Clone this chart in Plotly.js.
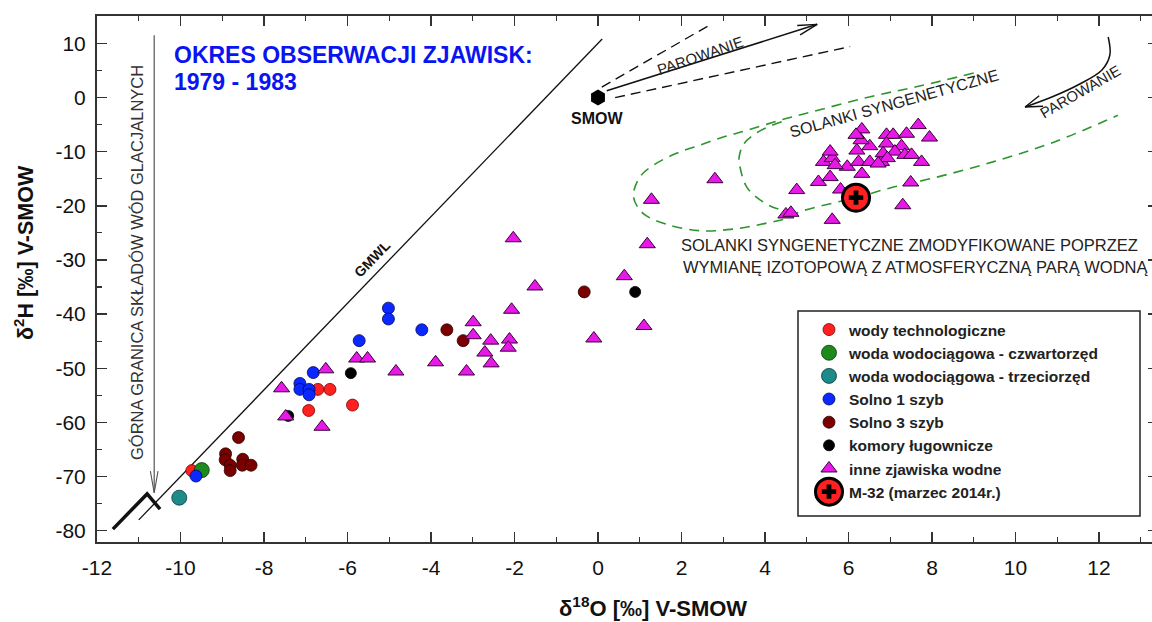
<!DOCTYPE html>
<html><head><meta charset="utf-8">
<script src="https://cdn.plot.ly/plotly-3.0.1.min.js"></script>
<style>html,body{margin:0;padding:0;overflow:hidden;background:#fff}#chart{width:1160px;height:622px}</style>
</head><body><div id="chart"></div>
<script>
// ---------------- DATA (δ18O, δ2H) ----------------
const techX  = [-6.71,-6.42,-6.93,-5.88,-9.73];
const techY  = [-53.9,-53.9,-57.8,-56.8,-68.9];
const quatX  = [-9.49];
const quatY  = [-68.8];
const tertX  = [-10.03];
const tertY  = [-73.9];
const solno1X = [-5.02,-5.02,-4.22,-5.72,-6.82,-7.14,-7.14,-6.92,-6.92,-9.63];
const solno1Y = [-38.9,-40.9,-42.9,-44.9,-50.8,-52.8,-53.9,-53.9,-54.9,-69.9];
const solno3X = [-0.33,-3.62,-3.23,-8.61,-8.92,-8.93,-8.51,-8.81,-8.52,-8.31,-8.81];
const solno3Y = [-35.9,-42.9,-44.9,-62.8,-65.8,-66.9,-66.8,-67.9,-67.9,-67.9,-68.9];
const komoryX = [0.89,-5.92,-7.42];
const komoryY = [-35.9,-50.9,-58.8];
const inneX = [-7.58,-7.48,-6.61,-6.52,-5.78,-5.52,-4.84,-3.89,-3.15,-2.99,-2.99,-2.57,-2.71,-2.56,-2.12,-2.15,-2.07,-2.03,-1.51,-0.10,0.63,1.10,1.18,1.28,2.80,4.76,4.50,4.62,5.61,
  5.28,5.56,5.81,6.32,5.97,5.40,5.61,5.68,5.56,6.24,6.51,6.79,6.20,6.51,6.30,6.32,6.18,6.91,7.07,7.39,7.67,7.94,6.91,7.27,6.83,7.11,7.35,7.51,7.75,6.93,6.71,7.49,7.30];
const inneY = [-53.7,-58.9,-60.8,-50.2,-48.2,-48.2,-50.6,-48.9,-50.6,-41.5,-43.9,-44.9,-47.1,-49.1,-44.7,-46.2,-39.2,-26.0,-34.9,-44.5,-33.0,-42.2,-27.1,-18.9,-15.1,-17.1,-21.6,-21.3,-22.6,
  -15.6,-14.7,-17.0,-14.1,-12.8,-11.9,-11.2,-12.5,-10.0,-11.9,-11.9,-11.9,-9.8,-9.0,-7.9,-5.9,-6.9,-6.9,-6.9,-6.7,-5.1,-7.4,-8.5,-9.0,-10.3,-10.0,-10.6,-10.6,-11.9,-11.2,-12.2,-15.7,-19.9];
const m32X = [6.18];
const m32Y = [-18.5];
const smowX = [0];
const smowY = [0];

const seriesNames = ['wody technologiczne','woda wodociągowa - czwartorzęd','woda wodociągowa - trzeciorzęd',
  'Solno 1 szyb','Solno 3 szyb','komory ługownicze','inne zjawiska wodne','M-32 (marzec 2014r.)'];

// reference lines / envelopes (data units)
const gmwlX = [-11.0, 0.1];
const gmwlY = [-78.0, 10.8];
const bracketX = [-11.62,-10.80,-10.49];
const bracketY = [-79.7,-73.2,-76.0];
const outerEnvX = [9.0,7.7,6.5,5.15,4.36,3.56,3.0,2.44,1.88,1.33,1.01,0.85,1.08,1.64,2.44,3.24,4.04,4.52,4.84,5.63,6.18,7.0,8.02,9.5,10.9,12.45];
const outerEnvY = [4.5,2.1,0.1,-2.6,-4.2,-6.1,-7.3,-8.8,-10.3,-12.5,-14.6,-18.3,-21.4,-23.4,-24.6,-24.3,-23.2,-22.3,-21.1,-19.5,-18.5,-16.7,-14.9,-11.8,-8.3,-3.3];
const innerEnvX = [4.4,3.85,3.5,3.38,3.4,3.56,3.88,4.28,4.84];
const innerEnvY = [-4.5,-6.3,-8.5,-11.0,-12.8,-16.5,-18.9,-20.5,-21.1];
const evapUpX = [0.09, 2.68], evapUpY = [1.9, 13.4];
const evapLoX = [0.41, 6.04], evapLoY = [-0.04, 9.4];
const evapArrX = [0.21, 5.25], evapArrY = [1.25, 13.5];
const evap2X = [12.22,12.26,12.07,11.54,10.87,10.23];
const evap2Y = [11.16,7.84,5.07,2.49,0.08,-1.76];
const glacX = [-10.63,-10.63], glacY = [11.5,-73.0];

// ---------------- GEOMETRY ----------------
const X0 = 97, PW = 1061, T = 16, PH = 526;
const PXU = 41.75, PYU = 5.416;
const xMin = -12, xMax = xMin + PW/PXU;
const yTop = 10 + (43.3 - T)/PYU, yBot = yTop - PH/PYU;
function dx(px){return xMin + (px - X0)/PXU;}
function dy(py){return yTop - (py - T)/PYU;}
function pxp(px){return (px - X0)/PW;}
function pyp(py){return 1 - (py - T)/PH;}
function toPx(x,y){return [X0 + (x - xMin)*PXU, T + (yTop - y)*PYU];}
function head(tx,ty,fx,fy,len,ang){
  const t=toPx(tx,ty), f=toPx(fx,fy);
  let vx=f[0]-t[0], vy=f[1]-t[1]; const n=Math.hypot(vx,vy); vx/=n; vy/=n;
  const a=ang*Math.PI/180, pts=[];
  for (const s of [1,-1]) {
    const c=Math.cos(s*a), si=Math.sin(s*a);
    pts.push([t[0]+len*(vx*c-vy*si), t[1]+len*(vx*si+vy*c)]);
  }
  return {x:[dx(pts[0][0]),tx,dx(pts[1][0])], y:[dy(pts[0][1]),ty,dy(pts[1][1])]};
}
function deco(x,y,line,extra){return Object.assign({x:x,y:y,mode:'lines',line:line,showlegend:false,hoverinfo:'skip',cliponaxis:false},extra||{});}

const green = '#2e952e';
const traces = [
  deco(outerEnvX,outerEnvY,{color:green,width:1.6,dash:'10px,7px',shape:'spline'}),
  deco(innerEnvX,innerEnvY,{color:green,width:1.6,dash:'10px,7px',shape:'spline'}),
  deco(gmwlX,gmwlY,{color:'#111',width:1.3}),
  deco(bracketX,bracketY,{color:'#111',width:3.5}),
  deco(evapUpX,evapUpY,{color:'#111',width:1.4,dash:'10px,6px'}),
  deco(evapLoX,evapLoY,{color:'#111',width:1.4,dash:'10px,6px'}),
  deco(evapArrX,evapArrY,{color:'#111',width:1.5}),
];
const h1 = head(evapArrX[1],evapArrY[1],evapArrX[0],evapArrY[0],20,14);
traces.push(deco(h1.x,h1.y,{color:'#111',width:1.4}));
traces.push(deco(evap2X,evap2Y,{color:'#111',width:1.5,shape:'spline'}));
const h2 = head(evap2X[5],evap2Y[5],evap2X[4],evap2Y[4],18,18);
traces.push(deco(h2.x,h2.y,{color:'#111',width:1.4}));
traces.push(deco(glacX,glacY,{color:'#555',width:1.2}));
const h3 = head(glacX[1],glacY[1],glacX[0],glacY[0],22,10);
traces.push(deco(h3.x,h3.y,{color:'#555',width:1.1}));
traces.push({x:smowX,y:smowY,mode:'markers',marker:{symbol:'hexagon',size:16,color:'#000'},showlegend:false,hoverinfo:'skip'});

function pts(x,y,name,color,size,lc,lw,sym){
  return {x:x,y:y,mode:'markers',name:name,type:'scatter',hoverinfo:'x+y+name',
    marker:{symbol:sym||'circle',size:size,color:color,line:{color:lc,width:lw}}};
}
traces.push(pts(techX,techY,seriesNames[0],'#ff2020',12,'#7a0000',0.8));
traces.push(pts(quatX,quatY,seriesNames[1],'#1e8a1e',15,'#0a3a0a',0.8));
traces.push(pts(tertX,tertY,seriesNames[2],'#1e8a8a',15,'#0a3a3a',0.8));
traces.push(pts(solno1X,solno1Y,seriesNames[3],'#0a28ff',12,'#000a55',0.8));
traces.push(pts(solno3X,solno3Y,seriesNames[4],'#7a0000',12,'#2a0000',0.8));
traces.push(pts(komoryX,komoryY,seriesNames[5],'#000000',11,'#000',0.8));
traces.push(pts(inneX,inneY,seriesNames[6],'#e619e6',14,'#3a003a',1,'triangle-up'));
const m32Circle = pts(m32X,m32Y,seriesNames[7],'#ff2020',27,'#000',3);
m32Circle.showlegend = false;
traces.push(m32Circle);
// the cross overlay carries the legend entry; the big circle behind it is drawn as a legend badge shape
traces.push({x:m32X,y:m32Y,mode:'markers',name:seriesNames[7],marker:{symbol:'cross',size:12,color:'#000'},hoverinfo:'x+y+name'});

const xTickVals = [-12,-10,-8,-6,-4,-2,0,2,4,6,8,10,12];
const xTickText = ['-12','-10','-8','-6','-4','-2','0','2','4','6','8','10','12'];
const yTickVals = [10,0,-10,-20,-30,-40,-50,-60,-70,-80];
const yTickText = ['10','0','-10','-20','-30','-40','-50','-60','-70','-80'];

const axCommon = {showline:true,linecolor:'#333',linewidth:2,mirror:'allticks',ticks:'inside',ticklen:10,tickwidth:1.5,tickcolor:'#333',
  showgrid:false,zeroline:false,tickfont:{family:'Arial',size:21,color:'#111'},fixedrange:true};

function ann(text,px,py,o){return Object.assign({text:text,x:pxp(px),y:pyp(py),xref:'paper',yref:'paper',showarrow:false,
  xanchor:'center',yanchor:'middle',font:{family:'Arial',size:15,color:'#222'}},o||{});}

const annotations = [
  ann('<b>OKRES OBSERWACJI ZJAWISK:</b>',172,55,{xanchor:'left',font:{family:'Arial',size:23,color:'#0a14f0'}}),
  ann('<b>1979 - 1983</b>',172,82,{xanchor:'left',font:{family:'Arial',size:23,color:'#0a14f0'}}),
  ann('GÓRNA GRANICA SKŁADÓW WÓD GLACJALNYCH',137,263,{textangle:-90,font:{family:'Arial',size:16.5,color:'#333'}}),
  ann('<b>GMWL</b>',372,259,{textangle:-46,font:{family:'Arial',size:14,color:'#111'}}),
  ann('<b>SMOW</b>',597,118,{font:{family:'Arial',size:16,color:'#111'}}),
  ann('PAROWANIE',700,55,{textangle:-19,font:{family:'Arial',size:15,color:'#222'}}),
  ann('PAROWANIE',1080,91,{textangle:-30,font:{family:'Arial',size:15,color:'#222'}}),
  ann('SOLANKI SYNGENETYCZNE',894,103,{textangle:-15.5,font:{family:'Arial',size:16,color:'#222'}}),
  ann('SOLANKI SYNGENETYCZNE ZMODYFIKOWANE POPRZEZ',679,245,{xanchor:'left',font:{family:'Arial',size:16.5,color:'#222'}}),
  ann('WYMIANĘ IZOTOPOWĄ Z ATMOSFERYCZNĄ PARĄ WODNĄ',681,267,{xanchor:'left',font:{family:'Arial',size:16.5,color:'#222'}}),
  ann('<b>δ<sup>2</sup>H [‰] V-SMOW</b>',24,253,{textangle:-90,font:{family:'Arial',size:21.5,color:'#111'}}),
  ann('<b>δ<sup>18</sup>O [‰] V-SMOW</b>',653,607,{font:{family:'Arial',size:22,color:'#111'}})
];

// legend frame and the large M-32 badge behind the legend's cross symbol
const LEG_L = 798, LEG_T = 311, LEG_R = 1140, LEG_B = 516;
const legX = 809, legY = 313, legFont = 15.5;
const rowH = Math.max(legFont*1.3,16)+3;
const badgeCx = 829, badgeCy = legY + 5 + rowH/2 + 7*rowH, badgeR = 13.5;
const shapes = [
  {type:'rect',xref:'paper',yref:'paper',x0:pxp(LEG_L),x1:pxp(LEG_R),y0:pyp(LEG_B),y1:pyp(LEG_T),
   fillcolor:'#fff',line:{color:'#222',width:1.5},layer:'above'},
  {type:'circle',xref:'paper',yref:'paper',x0:pxp(badgeCx-badgeR),x1:pxp(badgeCx+badgeR),y0:pyp(badgeCy+badgeR),y1:pyp(badgeCy-badgeR),
   fillcolor:'#ff2020',line:{color:'#000',width:3},layer:'above'}
];

const layout = {
  width:1160,height:622,margin:{l:X0,r:1160-X0-PW,t:T,b:622-T-PH},
  paper_bgcolor:'#fff',plot_bgcolor:'#fff',
  xaxis:Object.assign({},axCommon,{range:[xMin,xMax],tickmode:'array',tickvals:xTickVals,ticktext:xTickText,ticklabelstandoff:6,
    minor:{tickmode:'linear',tick0:0,dtick:1,ticks:'inside',ticklen:5,tickwidth:1.2,tickcolor:'#333'}}),
  yaxis:Object.assign({},axCommon,{range:[yBot,yTop],tickmode:'array',tickvals:yTickVals,ticktext:yTickText,ticklabelstandoff:5,
    minor:{tickmode:'linear',tick0:0,dtick:5,ticks:'inside',ticklen:5,tickwidth:1.2,tickcolor:'#333'}}),
  showlegend:true,
  legend:{x:pxp(legX),y:pyp(legY),xanchor:'left',yanchor:'top',bgcolor:'rgba(0,0,0,0)',borderwidth:0,
    font:{family:'Arial',size:legFont,color:'#222',weight:'bold'},itemsizing:'trace',itemclick:false,itemdoubleclick:false},
  shapes:shapes,
  annotations:annotations,
  hovermode:'closest'
};
Plotly.newPlot('chart',traces,layout,{displayModeBar:false,staticPlot:true});
</script>
</body></html>
